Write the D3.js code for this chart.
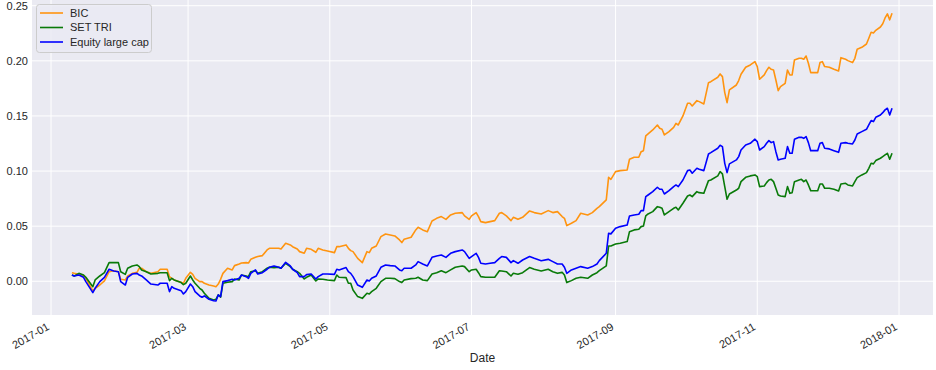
<!DOCTYPE html>
<html>
<head>
<meta charset="utf-8">
<script src="https://cdn.jsdelivr.net/npm/d3@7"></script>
<style>
  body { margin: 0; background: #fff; }
  text { font-family: "Liberation Sans", Arial, sans-serif; fill: #262626; }
</style>
</head>
<body>
<div id="chart"></div>
<script>
// trading days (sampled) and cumulative returns
const dates = [
  "2017-01-10","2017-01-11","2017-01-13","2017-01-15","2017-01-16","2017-01-19","2017-01-20","2017-01-22","2017-01-24","2017-01-26",
  "2017-01-28","2017-01-30","2017-01-31","2017-02-02","2017-02-03","2017-02-05","2017-02-07","2017-02-08","2017-02-09","2017-02-11",
  "2017-02-13","2017-02-16","2017-02-17","2017-02-20","2017-02-21","2017-02-22","2017-02-23","2017-02-26","2017-02-27","2017-02-28",
  "2017-03-02","2017-03-03","2017-03-04","2017-03-06","2017-03-07","2017-03-08",
  "2017-03-10","2017-03-12","2017-03-13","2017-03-14","2017-03-15","2017-03-16","2017-03-18","2017-03-20","2017-03-21","2017-03-23",
  "2017-03-24","2017-03-26","2017-03-27","2017-03-28","2017-03-30","2017-03-31","2017-04-02","2017-04-04","2017-04-05","2017-04-07",
  "2017-04-09","2017-04-10","2017-04-12","2017-04-14","2017-04-15","2017-04-17","2017-04-18","2017-04-20","2017-04-21","2017-04-23",
  "2017-04-25","2017-04-26","2017-04-28","2017-04-30","2017-05-03","2017-05-04","2017-05-05","2017-05-08","2017-05-09",
  "2017-05-10","2017-05-11","2017-05-13","2017-05-15","2017-05-17","2017-05-18","2017-05-19","2017-05-21","2017-05-23","2017-05-25",
  "2017-05-27","2017-05-29","2017-05-31","2017-06-01","2017-06-02","2017-06-05","2017-06-07","2017-06-08","2017-06-10","2017-06-12",
  "2017-06-14","2017-06-16","2017-06-18","2017-06-20","2017-06-22","2017-06-24","2017-06-27","2017-06-28","2017-06-30","2017-07-01",
  "2017-07-03","2017-07-04","2017-07-05","2017-07-07","2017-07-09",
  "2017-07-11","2017-07-13","2017-07-14","2017-07-16","2017-07-18","2017-07-19","2017-07-21","2017-07-23","2017-07-26","2017-07-28",
  "2017-07-31","2017-08-03","2017-08-05","2017-08-07","2017-08-09","2017-08-10","2017-08-11","2017-08-13","2017-08-15","2017-08-17",
  "2017-08-20","2017-08-22","2017-08-24","2017-08-25","2017-08-28","2017-08-29","2017-08-30","2017-09-01","2017-09-03","2017-09-06",
  "2017-09-07","2017-09-09","2017-09-11","2017-09-12","2017-09-13","2017-09-14","2017-09-15","2017-09-17","2017-09-19","2017-09-20",
  "2017-09-21","2017-09-22","2017-09-24","2017-09-26","2017-09-27","2017-09-28","2017-09-30","2017-10-02","2017-10-03","2017-10-04",
  "2017-10-06","2017-10-07","2017-10-09","2017-10-11","2017-10-12","2017-10-15","2017-10-16","2017-10-17","2017-10-18","2017-10-19",
  "2017-10-20","2017-10-23","2017-10-24","2017-10-25","2017-10-27","2017-10-29","2017-10-31","2017-11-01","2017-11-02","2017-11-04",
  "2017-11-05",
  "2017-11-06","2017-11-07","2017-11-08","2017-11-09","2017-11-10","2017-11-11","2017-11-13","2017-11-14","2017-11-15","2017-11-16",
  "2017-11-17","2017-11-19","2017-11-20","2017-11-21","2017-11-22","2017-11-23","2017-11-24","2017-11-26","2017-11-27","2017-11-28",
  "2017-11-29","2017-11-30","2017-12-02","2017-12-04","2017-12-06","2017-12-07","2017-12-09","2017-12-10","2017-12-12","2017-12-13",
  "2017-12-14","2017-12-16","2017-12-18","2017-12-19","2017-12-20","2017-12-21","2017-12-22","2017-12-24","2017-12-25","2017-12-26",
  "2017-12-27","2017-12-28","2017-12-29"
]

const bic = [
  0.0078,0.0072,0.0063,0.0051,0.0027,-0.0088,-0.0064,-0.0034,0.0003,0.0087,
  0.0096,0.0087,0.0018,0.0012,0.0048,0.0072,0.0081,0.0118,0.0118,0.0087,
  0.0072,0.0087,0.0109,0.0109,0.0042,0.0027,0.0012,-0.0009,-0.0018,0.0027,
  0.0081,0.0063,0.0027,-0.0003,-0.0003,-0.0018,
  -0.0034,-0.0043,-0.0049,-0.0025,0.0018,0.0072,0.0118,0.0103,0.0142,0.0157,
  0.0166,0.0169,0.0166,0.0199,0.0217,0.0224,0.0233,0.0284,0.0299,0.0299,
  0.0299,0.0293,0.0345,0.0330,0.0314,0.0293,0.0269,0.0254,0.0299,0.0290,
  0.0263,0.0299,0.0284,0.0275,0.0260,0.0314,0.0314,0.0330,0.0299,
  0.0278,0.0269,0.0208,0.0169,0.0269,0.0260,0.0299,0.0320,0.0405,0.0429,
  0.0420,0.0411,0.0375,0.0351,0.0381,0.0399,0.0466,0.0490,0.0466,0.0450,
  0.0547,0.0571,0.0587,0.0562,0.0602,0.0617,0.0623,0.0593,0.0562,0.0593,
  0.0623,0.0587,0.0541,0.0532,0.0541,
  0.0550,0.0617,0.0623,0.0593,0.0550,0.0580,0.0562,0.0580,0.0638,0.0623,
  0.0611,0.0641,0.0623,0.0632,0.0587,0.0571,0.0505,0.0526,0.0550,0.0617,
  0.0602,0.0623,0.0662,0.0677,0.0738,0.0943,0.0925,0.0995,0.1004,0.1010,
  0.1107,0.1125,0.1125,0.1176,0.1185,0.1319,0.1337,0.1373,0.1418,0.1388,
  0.1379,0.1328,0.1358,0.1397,0.1433,0.1418,0.1500,0.1615,0.1615,0.1591,
  0.1639,0.1630,0.1609,0.1802,0.1811,0.1851,0.1881,0.1857,0.1712,0.1621,
  0.1736,0.1781,0.1821,0.1878,0.1942,0.1963,0.1993,0.1948,0.1833,0.1872,
  0.1911,
  0.1942,0.1923,0.1917,0.1826,0.1730,0.1766,0.1796,0.1917,0.1872,0.1872,
  0.2008,0.2023,0.2023,0.2014,0.2044,0.1978,0.1893,0.1893,0.1893,0.1984,
  0.1993,0.1948,0.1942,0.1923,0.1908,0.2029,0.2014,0.2002,0.1984,0.2023,
  0.2105,0.2123,0.2153,0.2205,0.2259,0.2253,0.2277,0.2307,0.2337,0.2389,
  0.2426,0.2372,0.2432
]

const setTri = [
  0.0057,0.0048,0.0072,0.0057,0.0036,-0.0049,0.0012,0.0048,0.0078,0.0169,
  0.0169,0.0169,0.0087,0.0063,0.0118,0.0139,0.0148,0.0133,0.0103,0.0087,
  0.0066,0.0072,0.0078,0.0078,0.0006,0.0027,0.0012,-0.0012,-0.0031,-0.0018,
  0.0048,0.0012,-0.0018,-0.0064,-0.0079,-0.0109,
  -0.0155,-0.0170,-0.0164,-0.0124,-0.0145,-0.0018,-0.0009,-0.0003,0.0021,0.0012,
  0.0057,0.0048,0.0042,0.0087,0.0096,0.0072,0.0087,0.0118,0.0127,0.0124,
  0.0127,0.0118,0.0163,0.0133,0.0109,0.0087,0.0072,0.0021,0.0036,0.0057,
  0.0003,0.0021,0.0018,0.0012,0.0006,0.0057,0.0036,0.0033,-0.0018,
  -0.0018,-0.0079,-0.0139,-0.0155,-0.0109,-0.0115,-0.0094,-0.0064,-0.0003,0.0027,
  0.0027,0.0024,-0.0003,-0.0012,0.0012,0.0024,0.0027,0.0036,0.0012,0.0006,
  0.0066,0.0078,0.0096,0.0078,0.0103,0.0127,0.0139,0.0133,0.0087,0.0103,
  0.0109,0.0078,0.0042,0.0036,0.0036,
  0.0036,0.0096,0.0093,0.0087,0.0048,0.0072,0.0063,0.0078,0.0124,0.0109,
  0.0093,0.0109,0.0087,0.0072,0.0081,0.0057,-0.0012,0.0006,0.0027,0.0036,
  0.0027,0.0057,0.0078,0.0096,0.0139,0.0320,0.0320,0.0338,0.0345,0.0360,
  0.0450,0.0466,0.0472,0.0496,0.0502,0.0593,0.0611,0.0632,0.0677,0.0671,
  0.0662,0.0602,0.0632,0.0662,0.0671,0.0647,0.0708,0.0774,0.0783,0.0768,
  0.0813,0.0804,0.0798,0.0913,0.0919,0.0956,0.0995,0.0974,0.0859,0.0744,
  0.0792,0.0828,0.0844,0.0904,0.0943,0.0956,0.0965,0.0950,0.0859,0.0865,
  0.0895,
  0.0919,0.0925,0.0904,0.0844,0.0783,0.0774,0.0768,0.0859,0.0798,0.0804,
  0.0904,0.0919,0.0925,0.0904,0.0919,0.0874,0.0822,0.0822,0.0822,0.0883,
  0.0883,0.0844,0.0844,0.0835,0.0819,0.0883,0.0889,0.0874,0.0865,0.0904,
  0.0940,0.0965,0.0986,0.1025,0.1071,0.1065,0.1095,0.1116,0.1131,0.1146,
  0.1161,0.1107,0.1161
]

const equityLargeCap = [
  0.0057,0.0048,0.0057,0.0036,-0.0003,-0.0103,-0.0064,-0.0003,0.0036,0.0109,
  0.0093,0.0087,-0.0003,-0.0034,0.0036,0.0066,0.0072,0.0057,0.0048,0.0012,
  -0.0025,-0.0034,-0.0018,-0.0018,-0.0094,-0.0049,-0.0064,-0.0085,-0.0115,-0.0094,
  -0.0025,-0.0049,-0.0094,-0.0133,-0.0145,-0.0133,
  -0.0163,-0.0176,-0.0179,-0.0124,-0.0139,-0.0003,0.0006,0.0018,0.0012,0.0027,
  0.0057,0.0042,0.0027,0.0072,0.0103,0.0066,0.0078,0.0109,0.0127,0.0139,
  0.0127,0.0118,0.0172,0.0139,0.0109,0.0078,0.0042,0.0042,0.0060,0.0066,
  0.0021,0.0042,0.0066,0.0066,0.0063,0.0109,0.0103,0.0124,0.0087,
  0.0072,0.0042,-0.0034,-0.0055,0.0012,0.0003,0.0027,0.0048,0.0127,0.0148,
  0.0142,0.0139,0.0103,0.0096,0.0118,0.0118,0.0148,0.0178,0.0157,0.0139,
  0.0217,0.0230,0.0239,0.0217,0.0254,0.0269,0.0284,0.0269,0.0208,0.0224,
  0.0254,0.0217,0.0163,0.0157,0.0163,
  0.0169,0.0208,0.0224,0.0217,0.0169,0.0187,0.0163,0.0193,0.0224,0.0208,
  0.0187,0.0199,0.0178,0.0157,0.0157,0.0127,0.0072,0.0103,0.0118,0.0133,
  0.0118,0.0133,0.0157,0.0187,0.0254,0.0436,0.0430,0.0481,0.0496,0.0511,
  0.0593,0.0602,0.0608,0.0641,0.0641,0.0768,0.0783,0.0813,0.0853,0.0835,
  0.0835,0.0792,0.0822,0.0859,0.0874,0.0859,0.0919,0.1004,0.1010,0.0980,
  0.1025,0.1016,0.1004,0.1155,0.1167,0.1207,0.1234,0.1222,0.1070,0.0986,
  0.1065,0.1101,0.1131,0.1191,0.1237,0.1252,0.1289,0.1267,0.1191,0.1222,
  0.1252,
  0.1276,0.1258,0.1267,0.1176,0.1101,0.1107,0.1116,0.1222,0.1161,0.1161,
  0.1288,0.1306,0.1306,0.1297,0.1313,0.1258,0.1185,0.1185,0.1185,0.1252,
  0.1258,0.1207,0.1201,0.1185,0.1170,0.1252,0.1258,0.1252,0.1246,0.1282,
  0.1337,0.1358,0.1379,0.1418,0.1458,0.1449,0.1488,0.1509,0.1530,0.1555,
  0.1570,0.1509,0.1570
]

const seriesNames = ['BIC', 'SET TRI', 'Equity large cap']
const yTicks = [0, 0.05, 0.10, 0.15, 0.20, 0.25]

// canvas
const width = 936,
  height = 370
const plot = { left: 32, right: 933, top: 0, bottom: 315 }
const colors = ['#ff9410', '#097a09', '#0000ff']

const parse = d3.utcParse('%Y-%m-%d')
const days = dates.map(parse)
const series = [bic, setTri, equityLargeCap]

let svg = d3.select('#chart')
  .append('svg')
  .attr('width', width)
  .attr('height', height)

const x = d3.scaleUtc()
  .domain([parse('2017-01-01'), parse('2018-01-01')])
  .range([51, 899])

const y = d3.scaleLinear()
  .domain([-0.0306, 0.2552])
  .range([plot.bottom, plot.top])

// background
svg.append('rect')
  .attr('x', plot.left)
  .attr('y', plot.top)
  .attr('width', plot.right - plot.left)
  .attr('height', plot.bottom - plot.top)
  .attr('fill', '#eaeaf2')

svg.append('clipPath').attr('id', 'clip')
  .append('rect')
  .attr('x', plot.left)
  .attr('y', plot.top)
  .attr('width', plot.right - plot.left)
  .attr('height', plot.bottom - plot.top)

const xTicks = x.ticks(d3.utcMonth.every(2))

// grid
svg.append('g')
  .selectAll('line')
  .data(xTicks)
  .enter()
  .append('line')
  .attr('x1', d => x(d))
  .attr('x2', d => x(d))
  .attr('y1', plot.top)
  .attr('y2', plot.bottom)
  .attr('stroke', '#fff')
  .attr('stroke-width', 1)

svg.append('g')
  .selectAll('line')
  .data(yTicks)
  .enter()
  .append('line')
  .attr('x1', plot.left)
  .attr('x2', plot.right)
  .attr('y1', d => y(d))
  .attr('y2', d => y(d))
  .attr('stroke', '#fff')
  .attr('stroke-width', 1)

// lines
const line = d3.line()
  .x((d, i) => x(days[i]))
  .y(d => y(d))

svg.append('g')
  .attr('clip-path', 'url(#clip)')
  .selectAll('path')
  .data(series)
  .enter()
  .append('path')
  .attr('d', line)
  .attr('fill', 'none')
  .attr('stroke', (d, i) => colors[i])
  .attr('stroke-width', 1.6)
  .attr('stroke-linejoin', 'round')

// y tick labels
svg.append('g')
  .selectAll('text')
  .data(yTicks)
  .enter()
  .append('text')
  .attr('x', plot.left - 4)
  .attr('y', d => y(d))
  .attr('dy', '0.35em')
  .attr('text-anchor', 'end')
  .style('font-size', '11px')
  .text(d3.format('.2f'))

// x tick labels (rotated like autofmt_xdate)
const fmt = d3.utcFormat('%Y-%m')
svg.append('g')
  .selectAll('text')
  .data(xTicks)
  .enter()
  .append('text')
  .attr('transform', d => 'translate(' + (x(d) - 1) + ',' + 329 + ') rotate(-30)')
  .attr('text-anchor', 'end')
  .style('font-size', '11px')
  .text(fmt)

svg.append('text')
  .attr('x', (plot.left + plot.right) / 2)
  .attr('y', 362)
  .attr('text-anchor', 'middle')
  .style('font-size', '12px')
  .text('Date')

// legend
const legend = svg.append('g')
legend.append('rect')
  .attr('x', 36.5)
  .attr('y', 4.5)
  .attr('width', 115)
  .attr('height', 48)
  .attr('rx', 3)
  .attr('fill', '#eaeaf2')
  .attr('fill-opacity', 0.8)
  .attr('stroke', '#cccccc')

seriesNames.forEach((name, i) => {
  const ly = 13 + i * 14.5
  legend.append('line')
    .attr('x1', 40)
    .attr('x2', 63)
    .attr('y1', ly)
    .attr('y2', ly)
    .attr('stroke', colors[i])
    .attr('stroke-width', 1.6)
  legend.append('text')
    .attr('x', 70)
    .attr('y', ly)
    .attr('dy', '0.35em')
    .style('font-size', '11px')
    .text(name)
})
</script>
</body>
</html>
